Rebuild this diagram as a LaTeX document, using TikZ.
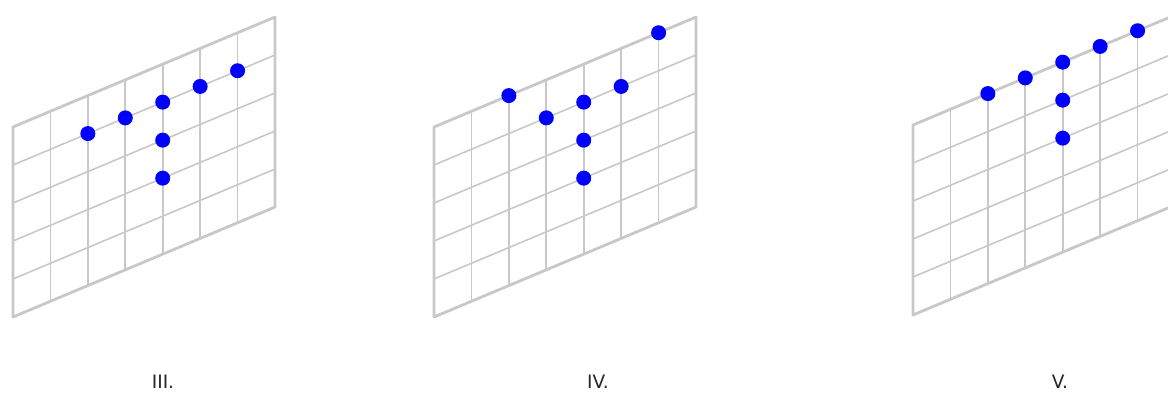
\documentclass[tikz,border=0pt]{standalone}
\usepackage{fontspec}
\setmainfont{DejaVu Sans}
\definecolor{gridgray}{RGB}{200,200,200}
\definecolor{dotblue}{RGB}{0,0,255}
\tikzset{
  gridline/.style={draw=gridgray, line width=1.6pt},
  gridframe/.style={draw=gridgray, line width=2.8pt, line join=round},
  pin/.style={circle, fill=dotblue, inner sep=0pt, minimum size=15pt},
  caption/.style={font=\fontsize{18.5}{22}\selectfont, text=black!85},
  sheet/.style={x={(37.43pt,15.71pt)}, y={(0pt,-38pt)}}
}
\newcommand{\gridsheet}{%
  \foreach \j in {1,...,4} \draw[gridline] (0,\j) -- (7,\j);
  \foreach \i in {1,...,6} \draw[gridline] (\i,0) -- (\i,5);
  \draw[gridframe] (0,0) -- (7,0) -- (7,5) -- (0,5) -- cycle;
}

\begin{document}
\begin{tikzpicture}[x=1pt, y=1pt]
  \useasboundingbox (0,0) rectangle (1168,399);
  \clip (0,0) rectangle (1168,399);

  % panel III
  \begin{scope}[shift={(13,272)}, sheet]
    \gridsheet
    \node[pin] (a1) at (2,1) {};
    \node[pin] (a2) at (3,1) {};
    \node[pin] (a3) at (4,1) {};
    \node[pin] (a4) at (5,1) {};
    \node[pin] (a5) at (6,1) {};
    \node[pin] (a6) at (4,2) {};
    \node[pin] (a7) at (4,3) {};
  \end{scope}

  % panel IV
  \begin{scope}[shift={(434,272)}, sheet]
    \gridsheet
    \node[pin] (b1) at (2,0) {};
    \node[pin] (b2) at (3,1) {};
    \node[pin] (b3) at (4,1) {};
    \node[pin] (b4) at (5,1) {};
    \node[pin] (b5) at (6,0) {};
    \node[pin] (b6) at (4,2) {};
    \node[pin] (b7) at (4,3) {};
  \end{scope}

  % panel V
  \begin{scope}[shift={(913,274)}, sheet]
    \gridsheet
    \node[pin] (c1) at (2,0) {};
    \node[pin] (c2) at (3,0) {};
    \node[pin] (c3) at (4,0) {};
    \node[pin] (c4) at (5,0) {};
    \node[pin] (c5) at (6,0) {};
    \node[pin] (c6) at (4,1) {};
    \node[pin] (c7) at (4,2) {};
  \end{scope}

  \node[caption] (labIII) at (163,17) {III.};
  \node[caption] (labIV) at (598,17) {IV.};
  \node[caption] (labV) at (1060,17) {V.};
\end{tikzpicture}
\end{document}
